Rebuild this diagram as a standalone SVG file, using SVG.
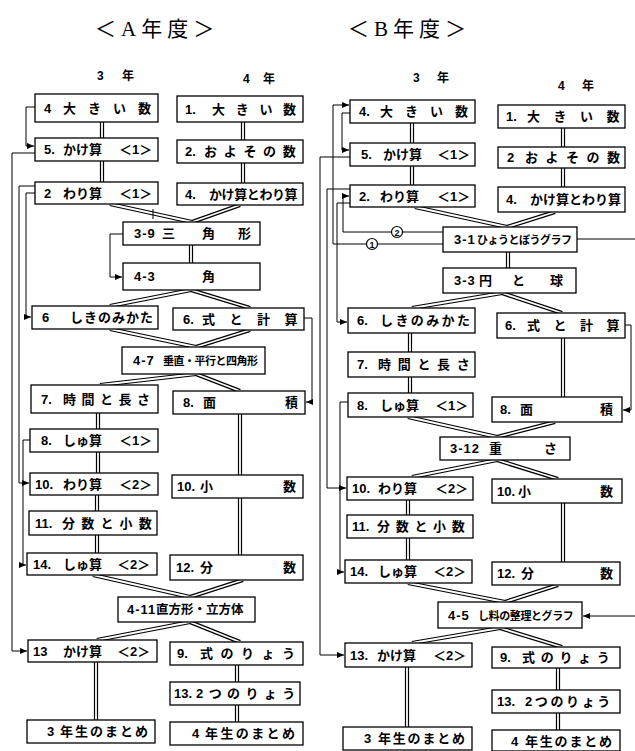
<svg xmlns="http://www.w3.org/2000/svg" xmlns:xlink="http://www.w3.org/1999/xlink" width="635" height="751" viewBox="0 0 635 751">
<defs>
<style>
.box{fill:#fff;stroke:#000;stroke-width:1.3}
.t{font-family:"Liberation Sans","Noto Sans CJK JP",sans-serif;font-size:13px;font-weight:700;fill:#000}
.h{font-family:"Liberation Sans","Noto Sans CJK JP",sans-serif;font-size:12px;font-weight:700;fill:#000}
.ttl{font-family:"Liberation Serif","Noto Sans CJK JP",serif;font-size:21px;fill:#000}
.ln{fill:none;stroke:#000;stroke-width:1}
.circ{fill:#fff;stroke:#000;stroke-width:1.2}
.cn{font-family:"Liberation Sans",sans-serif;font-size:9px;font-weight:700;fill:#000}
</style>
<marker id="ar" markerUnits="userSpaceOnUse" markerWidth="7" markerHeight="6" refX="7" refY="3" orient="auto">
<path d="M0,0 L7,3 L0,6 z" fill="#000"/>
</marker>
</defs>
<rect width="635" height="751" fill="#fff"/>

<g id="titles">
<text class="ttl" x="95" y="36" letter-spacing="5">＜A年度＞</text>
<text class="ttl" x="348" y="36" letter-spacing="5">＜B年度＞</text>
<text class="h" x="97" y="80">3<tspan x="122">年</tspan></text>
<text class="h" x="243" y="83">4<tspan x="263">年</tspan></text>
<text class="h" x="413" y="82">3<tspan x="437">年</tspan></text>
<text class="h" x="558" y="90">4<tspan x="582">年</tspan></text>
</g>

<g id="connectors">
<g fill="none" stroke="#000" stroke-width="4.2">
<g id="dbl">
<path d="M102,122V138M102,161V182M243,122V140M243,163V183M110,204L192,222M240,205L192,222M191,245V263M191,290L110,306M191,290L250,308M110,329L196,347M250,330L196,347M196,374L100,385M196,374L240,391M98,413V429M98,452V473M97,495V511M97,535V553M240,414V475M240,498V555M93,575L190,597M243,580L190,597M190,622L97,640M190,622L240,642M96,662V720M237,665V682M237,705V722"/>
<path d="M412,123V143M412,166V185M563,128V147M563,168V187M415,207L507,227M555,212L507,227M508,252V268M502,293L412,308M502,293L562,313M410,333V352M410,377V393M563,338V397M408,417L497,437M555,422L497,437M497,460L412,477M497,460L558,479M408,500V515M408,538V560M563,503V562M408,583L505,602M558,585L505,602M500,628L412,643M500,628L562,647M407,667V727M558,668V690M558,713V730"/>
</g>
</g>
<use xlink:href="#dbl" href="#dbl" fill="none" stroke="#fff" stroke-width="1.8"/>
<path class="ln" d="M153,209V219"/>
<g class="ln">
<path d="M35,107H26V146H34" marker-end="url(#ar)"/>
<path d="M35,153H12V651H27" marker-end="url(#ar)"/>
<path d="M35,186H19V483H29" marker-end="url(#ar)"/>
<path d="M35,193H26V317H31" marker-end="url(#ar)"/>
<path d="M30,440H23V565H26" marker-end="url(#ar)"/>
<path d="M123,234H110V277H122" marker-end="url(#ar)"/>
<path d="M304,318H312V402H306" marker-end="url(#ar)"/>
<path d="M443,244H333V105H349" marker-end="url(#ar)"/>
<path d="M443,232H343V196H349" marker-end="url(#ar)"/>
<path d="M350,113H342V150H349" marker-end="url(#ar)"/>
<path d="M350,157H320V655H344" marker-end="url(#ar)"/>
<path d="M350,189H327V488H346" marker-end="url(#ar)"/>
<path d="M350,203H337V322H347" marker-end="url(#ar)"/>
<path d="M348,402H340V572H344" marker-end="url(#ar)"/>
<path d="M577,239H635"/>
<path d="M625,325H631V410H623" marker-end="url(#ar)"/>
<path d="M635,616H583" marker-end="url(#ar)"/>
</g>
<g id="mark1"><circle class="circ" cx="372" cy="244" r="5.5"/><text class="cn" x="372" y="247.5" text-anchor="middle">1</text></g>
<g id="mark2"><circle class="circ" cx="397" cy="232" r="5.5"/><text class="cn" x="397" y="235.5" text-anchor="middle">2</text></g>
</g>

<g id="a4dai"><rect class="box" x="35" y="94" width="123" height="28"/><text class="t" x="44" y="113">4<tspan x="63" letter-spacing="12">大きい数</tspan></text></g>
<g id="a1dai"><rect class="box" x="177" y="96" width="126" height="26"/><text class="t" x="185" y="114">1.<tspan x="212" letter-spacing="10.7">大きい数</tspan></text></g>
<g id="a5kake"><rect class="box" x="35" y="138" width="123" height="23"/><text class="t" x="44" y="154">5.<tspan x="63">かけ算</tspan><tspan x="119">＜1＞</tspan></text></g>
<g id="a2oyoso"><rect class="box" x="177" y="140" width="126" height="23"/><text class="t" x="185" y="156">2.<tspan x="204" letter-spacing="6.7">およその数</tspan></text></g>
<g id="a2wari"><rect class="box" x="35" y="182" width="123" height="22"/><text class="t" x="44" y="198">2<tspan x="63">わり算</tspan><tspan x="119">＜1＞</tspan></text></g>
<g id="a4kakewari"><rect class="box" x="177" y="183" width="126" height="22"/><text class="t" x="185" y="199">4.<tspan x="209" letter-spacing="-0.4">かけ算とわり算</tspan></text></g>
<g id="a39"><rect class="box" x="123" y="222" width="137" height="23"/><text class="t" x="134" y="238" letter-spacing="1">3-9<tspan x="162" letter-spacing="0">三</tspan><tspan x="202">角</tspan><tspan x="238">形</tspan></text></g>
<g id="a43"><rect class="box" x="123" y="263" width="137" height="27"/><text class="t" x="134" y="281" letter-spacing="1">4-3<tspan x="202" letter-spacing="0">角</tspan></text></g>
<g id="a6shiki"><rect class="box" x="32" y="306" width="126" height="23"/><text class="t" x="42" y="322">6<tspan x="70" letter-spacing="1">しきのみかた</tspan></text></g>
<g id="a6siki"><rect class="box" x="173" y="308" width="131" height="22"/><text class="t" x="183" y="324">6.<tspan x="202" letter-spacing="14.5">式と計算</tspan></text></g>
<g id="a47"><rect class="box" x="122" y="347" width="143" height="27"/><text class="t" x="133" y="365" letter-spacing="1">4-7<tspan x="163" font-size="11" letter-spacing="-0.5">垂直・平行と四角形</tspan></text></g>
<g id="a7jikan"><rect class="box" x="31" y="385" width="127" height="28"/><text class="t" x="41" y="404">7.<tspan x="63" letter-spacing="5.5">時間と長さ</tspan></text></g>
<g id="a8men"><rect class="box" x="173" y="391" width="132" height="23"/><text class="t" x="183" y="407">8.<tspan x="203">面</tspan><tspan x="285">積</tspan></text></g>
<g id="a8shu"><rect class="box" x="30" y="429" width="128" height="23"/><text class="t" x="41" y="445">8.<tspan x="63">しゅ算</tspan><tspan x="119">＜1＞</tspan></text></g>
<g id="a10wari"><rect class="box" x="30" y="473" width="128" height="22"/><text class="t" x="35" y="489">10.<tspan x="63">わり算</tspan><tspan x="119">＜2＞</tspan></text></g>
<g id="a10sho"><rect class="box" x="172" y="475" width="131" height="23"/><text class="t" x="177" y="491">10.<tspan x="200">小</tspan><tspan x="283">数</tspan></text></g>
<g id="a11"><rect class="box" x="29" y="511" width="128" height="24"/><text class="t" x="35" y="528">11.<tspan x="62" letter-spacing="6.2">分数と小数</tspan></text></g>
<g id="a14"><rect class="box" x="27" y="553" width="130" height="22"/><text class="t" x="33" y="569">14.<tspan x="63">しゅ算</tspan><tspan x="117">＜2＞</tspan></text></g>
<g id="a12"><rect class="box" x="170" y="555" width="133" height="25"/><text class="t" x="176" y="572">12.<tspan x="200">分</tspan><tspan x="283">数</tspan></text></g>
<g id="a411"><rect class="box" x="118" y="597" width="137" height="25"/><text class="t" x="127" y="614" letter-spacing="1">4-11<tspan x="156" font-size="12.5" letter-spacing="0">直方形・立方体</tspan></text></g>
<g id="a13kake"><rect class="box" x="28" y="640" width="129" height="22"/><text class="t" x="33" y="656">13<tspan x="63">かけ算</tspan><tspan x="117">＜2＞</tspan></text></g>
<g id="a9"><rect class="box" x="170" y="642" width="133" height="23"/><text class="t" x="177" y="658">9.<tspan x="200" letter-spacing="7.5">式のりょう</tspan></text></g>
<g id="a13futa"><rect class="box" x="170" y="682" width="130" height="23"/><text class="t" x="174" y="698">13.<tspan x="196" letter-spacing="5.4">2つのりょう</tspan></text></g>
<g id="a3matome"><rect class="box" x="27" y="720" width="128" height="23"/><text class="t" x="47" y="736">3<tspan x="60" letter-spacing="2">年生のまとめ</tspan></text></g>
<g id="a4matome"><rect class="box" x="170" y="722" width="133" height="23"/><text class="t" x="192" y="738">4<tspan x="205" letter-spacing="2.4">年生のまとめ</tspan></text></g>

<g id="b4dai"><rect class="box" x="350" y="100" width="125" height="23"/><text class="t" x="359" y="116">4.<tspan x="380" letter-spacing="12">大きい数</tspan></text></g>
<g id="b1dai"><rect class="box" x="498" y="105" width="127" height="23"/><text class="t" x="506" y="121">1.<tspan x="527" letter-spacing="13.5">大きい数</tspan></text></g>
<g id="b5kake"><rect class="box" x="350" y="143" width="125" height="23"/><text class="t" x="361" y="159">5.<tspan x="383">かけ算</tspan><tspan x="437">＜1＞</tspan></text></g>
<g id="b2oyoso"><rect class="box" x="498" y="147" width="127" height="21"/><text class="t" x="507" y="162">2<tspan x="525" letter-spacing="7.5">およその数</tspan></text></g>
<g id="b2wari"><rect class="box" x="350" y="185" width="125" height="22"/><text class="t" x="359" y="201">2.<tspan x="380">わり算</tspan><tspan x="437">＜1＞</tspan></text></g>
<g id="b4kakewari"><rect class="box" x="498" y="187" width="127" height="25"/><text class="t" x="506" y="204">4.<tspan x="530">かけ算とわり算</tspan></text></g>
<g id="b31"><rect class="box" x="443" y="227" width="134" height="25"/><text class="t" x="454" y="244" letter-spacing="1">3-1<tspan x="477" font-size="11" letter-spacing="-0.5">ひょうとぼうグラフ</tspan></text></g>
<g id="b33"><rect class="box" x="443" y="268" width="133" height="25"/><text class="t" x="454" y="285" letter-spacing="1">3-3<tspan x="479" letter-spacing="0">円</tspan><tspan x="512">と</tspan><tspan x="550">球</tspan></text></g>
<g id="b6shiki"><rect class="box" x="348" y="308" width="127" height="25"/><text class="t" x="357" y="325">6.<tspan x="380" letter-spacing="2.4">しきのみかた</tspan></text></g>
<g id="b6siki"><rect class="box" x="497" y="313" width="128" height="25"/><text class="t" x="505" y="330">6.<tspan x="527" letter-spacing="13.5">式と計算</tspan></text></g>
<g id="b7jikan"><rect class="box" x="348" y="352" width="127" height="25"/><text class="t" x="357" y="369">7.<tspan x="378" letter-spacing="6.7">時間と長さ</tspan></text></g>
<g id="b8shu"><rect class="box" x="348" y="393" width="125" height="24"/><text class="t" x="357" y="410">8.<tspan x="380">しゅ算</tspan><tspan x="435">＜1＞</tspan></text></g>
<g id="b8men"><rect class="box" x="492" y="397" width="130" height="25"/><text class="t" x="500" y="414">8.<tspan x="520">面</tspan><tspan x="600">積</tspan></text></g>
<g id="b312"><rect class="box" x="440" y="437" width="130" height="23"/><text class="t" x="450" y="453" letter-spacing="1">3-12<tspan x="489" letter-spacing="0">重</tspan><tspan x="544">さ</tspan></text></g>
<g id="b10wari"><rect class="box" x="347" y="477" width="126" height="23"/><text class="t" x="352" y="493">10.<tspan x="378">わり算</tspan><tspan x="435">＜2＞</tspan></text></g>
<g id="b10sho"><rect class="box" x="492" y="479" width="130" height="24"/><text class="t" x="497" y="496">10.<tspan x="518">小</tspan><tspan x="600">数</tspan></text></g>
<g id="b11"><rect class="box" x="347" y="515" width="126" height="23"/><text class="t" x="352" y="531">11.<tspan x="377" letter-spacing="5.7">分数と小数</tspan></text></g>
<g id="b14"><rect class="box" x="345" y="560" width="127" height="23"/><text class="t" x="350" y="576">14.<tspan x="378">しゅ算</tspan><tspan x="433">＜2＞</tspan></text></g>
<g id="b12"><rect class="box" x="492" y="562" width="128" height="23"/><text class="t" x="497" y="578">12.<tspan x="521">分</tspan><tspan x="600">数</tspan></text></g>
<g id="b45"><rect class="box" x="438" y="602" width="144" height="26"/><text class="t" x="448" y="620" letter-spacing="1">4-5<tspan x="478" font-size="11" letter-spacing="-0.4">し料の整理とグラフ</tspan></text></g>
<g id="b13kake"><rect class="box" x="345" y="643" width="127" height="24"/><text class="t" x="350" y="660">13.<tspan x="377">かけ算</tspan><tspan x="433">＜2＞</tspan></text></g>
<g id="b9"><rect class="box" x="492" y="647" width="128" height="21"/><text class="t" x="500" y="662">9.<tspan x="522" letter-spacing="5.7">式のりょう</tspan></text></g>
<g id="b13futa"><rect class="box" x="492" y="690" width="128" height="23"/><text class="t" x="497" y="706">13.<tspan x="525" letter-spacing="2.6">2つのりょう</tspan></text></g>
<g id="b3matome"><rect class="box" x="343" y="727" width="129" height="23"/><text class="t" x="364" y="743">3<tspan x="378" letter-spacing="1.8">年生のまとめ</tspan></text></g>
<g id="b4matome"><rect class="box" x="492" y="730" width="128" height="21"/><text class="t" x="511" y="746">4<tspan x="525" letter-spacing="1.8">年生のまとめ</tspan></text></g>
</svg>
